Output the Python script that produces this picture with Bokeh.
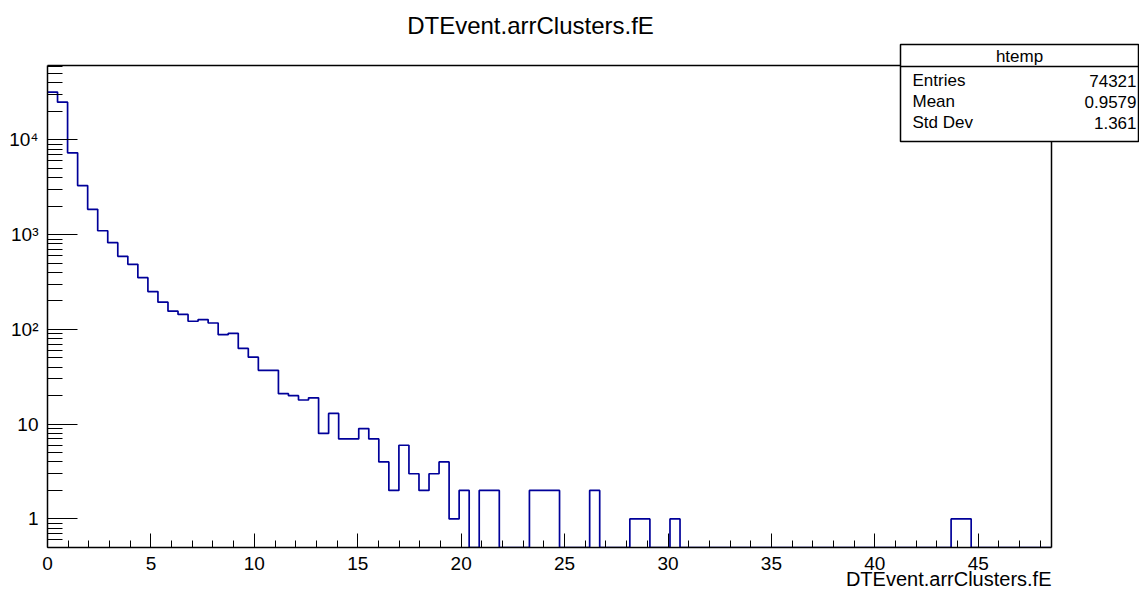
import math
from bokeh.plotting import figure
from bokeh.models import Range1d, FixedTicker, LinearAxis
from bokeh.core.properties import value
from bokeh.embed import file_html
from bokeh.resources import INLINE

# ---------------- data ----------------
title_text = "DTEvent.arrClusters.fE"
x_title = "DTEvent.arrClusters.fE"
hist_name = "htemp"
stat_names = ["Entries", "Mean", "Std Dev"]
stat_values = ["74321", "0.9579", "1.361"]

x_low, x_high = 0.0, 48.54
n_bins = 100
counts = [
    32000, 25000, 7300, 3300, 1850, 1100, 824, 591, 487, 352,
    251, 194, 156, 144, 122, 127, 117, 88, 91, 63,
    51, 37, 37, 21, 20, 18, 19, 8, 13, 7,
    7, 9, 7, 4, 2, 6, 3, 2, 3, 4,
    1, 2, 0, 2, 2, 0, 0, 0, 2, 2,
    2, 0, 0, 0, 2, 0, 0, 0, 1, 1,
    0, 0, 1, 0, 0, 0, 0, 0, 0, 0,
    0, 0, 0, 0, 0, 0, 0, 0, 0, 0,
    0, 0, 0, 0, 0, 0, 0, 0, 0, 0,
    1, 1, 0, 0, 0, 0, 0, 0, 0, 0,
]
x_ticks = [0, 5, 10, 15, 20, 25, 30, 35, 40, 45]
x_minor = list(range(0, 49))
y_ticks = [1, 10, 100, 1000, 10000]
y_tick_labels = ["1", "10", "10\u00b2", "10\u00b3", "10\u2074"]
y_low, y_high = 0.5, 61000

# ---------------- layout ----------------
W, H = 1139, 592
FL, FR, FT, FB = 47, 1051, 65, 547   # frame edges in pixels
FONT = "Liberation Sans"
HIST_COLOR = "#000099"


def dx(fx):
    return x_low + (fx - FL) / (FR - FL) * (x_high - x_low)


def dy(fy):
    lo, hi = math.log10(y_low), math.log10(y_high)
    return 10 ** (hi - (fy - FT) / (FB - FT) * (hi - lo))


p = figure(width=W, height=H, x_range=Range1d(x_low, x_high),
           y_range=Range1d(y_low, y_high), y_axis_type="log",
           output_backend="svg", toolbar_location=None,
           min_border_left=FL, min_border_right=W - FR,
           min_border_top=FT, min_border_bottom=H - FB)
p.grid.visible = False
p.outline_line_color = None
p.background_fill_color = "white"
p.border_fill_color = "white"

# x axis
xa = p.xaxis[0]
xa.ticker = FixedTicker(ticks=x_ticks, minor_ticks=x_minor)
xa.major_tick_in, xa.major_tick_out = 14, 0
xa.minor_tick_in, xa.minor_tick_out = 7, 0
xa.major_tick_line_color = "black"
xa.minor_tick_line_color = "black"
xa.axis_line_color = "black"
xa.axis_line_width = 1.5
xa.major_label_text_font = FONT
xa.major_label_text_font_size = "19px"
xa.major_label_text_color = "black"
xa.major_label_standoff = 9

# y axis
y_minor = [m / 10 for m in range(6, 10)]
for d in range(0, 5):
    for k in range(2, 10):
        v = k * 10 ** d
        if v < y_high:
            y_minor.append(v)
ya = p.yaxis[0]
ya.ticker = FixedTicker(ticks=y_ticks, minor_ticks=y_minor)
ya.major_label_overrides = {t: s for t, s in zip(y_ticks, y_tick_labels)}
ya.major_tick_in, ya.major_tick_out = 30, 0
ya.minor_tick_in, ya.minor_tick_out = 15, 0
ya.major_tick_line_color = "black"
ya.minor_tick_line_color = "black"
ya.axis_line_color = "black"
ya.axis_line_width = 1.5
ya.major_label_text_font = FONT
ya.major_label_text_font_size = "19px"
ya.major_label_text_color = "black"
ya.major_label_standoff = 9

# frame top and right borders as bare axes
for side in ("right", "above"):
    ax = LinearAxis(ticker=FixedTicker(ticks=[]), axis_line_color="black",
                    axis_line_width=1.5, major_tick_in=0, major_tick_out=0,
                    minor_tick_in=0, minor_tick_out=0, major_label_standoff=0)
    p.add_layout(ax, side)

# histogram outline
width = (x_high - x_low) / n_bins
xs, ys = [], []
for i, c in enumerate(counts):
    v = c if c > 0 else y_low
    xs += [x_low + i * width, x_low + (i + 1) * width]
    ys += [v, v]
p.line(xs, ys, line_color=HIST_COLOR, line_width=1.7)


def put_text(px, py, s, size, align, baseline="middle"):
    p.text(x=[dx(px)], y=[dy(py)], text=[s], text_font=value(FONT),
           text_font_size=value(size), text_align=align,
           text_baseline=baseline, text_color="black", level="overlay")


# title and x-axis title
put_text(530, 25, title_text, "24px", "center")
put_text(FR, 578, x_title, "20px", "right")

# stats box
bl, br, bt, bb, bsep = 900, 1138, 44, 141, 66
p.quad(left=[dx(bl)], right=[dx(br)], top=[dy(bt)], bottom=[dy(bb)],
       fill_color="white", line_color="black", line_width=1.5, level="overlay")
p.segment(x0=[dx(bl)], x1=[dx(br)], y0=[dy(bsep)], y1=[dy(bsep)],
          line_color="black", line_width=1.5, level="overlay")
put_text((bl + br) / 2, 56, hist_name, "17px", "center")
row_y = [80, 101, 122]
for name, val, ry in zip(stat_names, stat_values, row_y):
    put_text(bl + 12, ry, name, "17px", "left")
    put_text(br - 2, ry, val, "17px", "right")

open("out.html", "w").write(file_html(p, INLINE))
